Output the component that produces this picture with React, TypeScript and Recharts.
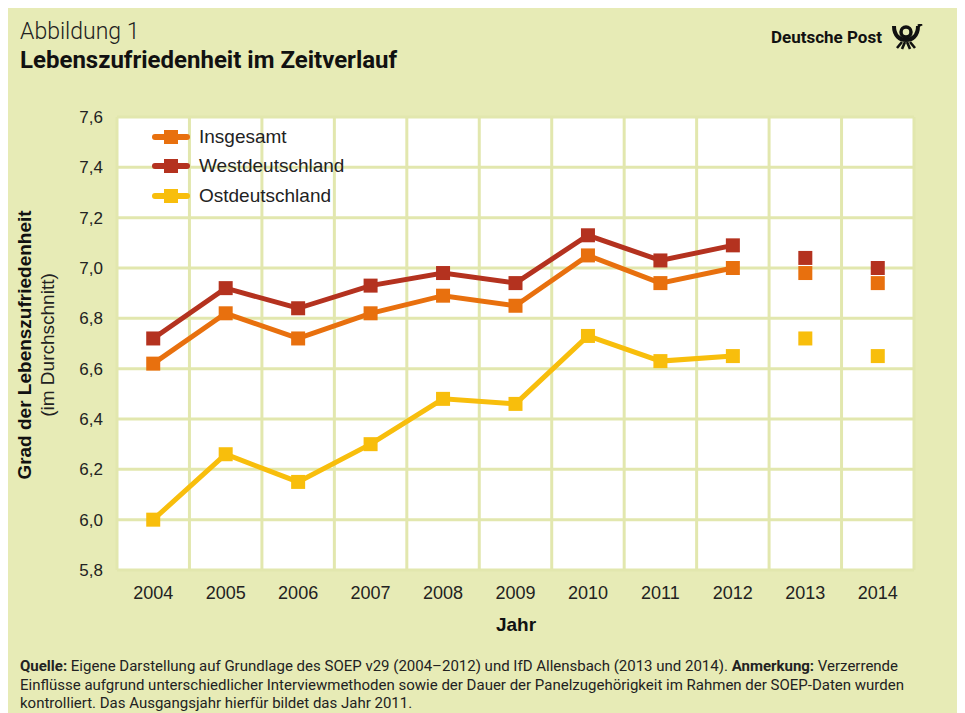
import React from "react";
import { CartesianGrid, Line, LineChart, XAxis, YAxis } from "recharts";

// Jahre und Werte (2013/2014: IfD Allensbach, nicht verbunden)
const years = [2004, 2005, 2006, 2007, 2008, 2009, 2010, 2011, 2012, 2013, 2014];
const insgesamt = [6.62, 6.82, 6.72, 6.82, 6.89, 6.85, 7.05, 6.94, 7.0, null, null];
const west = [6.72, 6.92, 6.84, 6.93, 6.98, 6.94, 7.13, 7.03, 7.09, null, null];
const ost = [6.0, 6.26, 6.15, 6.3, 6.48, 6.46, 6.73, 6.63, 6.65, null, null];
const insgesamtSurvey = [null, null, null, null, null, null, null, null, null, 6.98, 6.94];
const westSurvey = [null, null, null, null, null, null, null, null, null, 7.04, 7.0];
const ostSurvey = [null, null, null, null, null, null, null, null, null, 6.72, 6.65];
const yTicks = [5.8, 6.0, 6.2, 6.4, 6.6, 6.8, 7.0, 7.2, 7.4, 7.6];
const gridTicks = [2004.5, 2005.5, 2006.5, 2007.5, 2008.5, 2009.5, 2010.5, 2011.5, 2012.5, 2013.5];

const COLORS = {
  insgesamt: "#e8700e",
  west: "#b4321f",
  ost: "#f8be0c",
  bg: "#e7ebb6",
  grid: "#e2e7ae",
  text: "#222",
};

const legendItems = [
  { name: "Insgesamt", color: COLORS.insgesamt },
  { name: "Westdeutschland", color: COLORS.west },
  { name: "Ostdeutschland", color: COLORS.ost },
];

const data = years.map((year, i) => ({
  year,
  insgesamt: insgesamt[i],
  west: west[i],
  ost: ost[i],
  insgesamtSurvey: insgesamtSurvey[i],
  westSurvey: westSurvey[i],
  ostSurvey: ostSurvey[i],
}));

const FONT = "'Liberation Sans', Arial, sans-serif";

const squareDot = (color: string) => (props: any) => {
  const { cx, cy, index, value } = props;
  if (cx == null || cy == null || value == null) return <g key={`n-${index}`} />;
  return <rect key={`d-${index}`} x={cx - 7} y={cy - 7} width={14} height={14} fill={color} />;
};

function ChartLegend() {
  return (
    <div style={{ position: "absolute", left: 144, top: 114 }}>
      {legendItems.map((p) => (
        <div key={p.name} style={{ display: "flex", alignItems: "center", height: 29.5 }}>
          <svg width={38} height={16} style={{ marginRight: 9 }}>
            <line x1={3} y1={8} x2={35} y2={8} stroke={p.color} strokeWidth={6} strokeLinecap="round" />
            <rect x={12} y={1} width={14} height={14} fill={p.color} />
          </svg>
          <span style={{ fontSize: 19, color: COLORS.text, fontFamily: FONT }}>{p.name}</span>
        </div>
      ))}
    </div>
  );
}

function PostHorn() {
  return (
    <svg width={36} height={26} viewBox="0 0 36 26">
      <path d="M6 2 C6 12 12 16 18 16 C24 16 30 12 30 2" fill="none" stroke="#111" strokeWidth={4} />
      <circle cx={18} cy={8} r={5} fill="none" stroke="#111" strokeWidth={3.5} />
      <path d="M30 2 L34 0" stroke="#111" strokeWidth={3} />
      <path d="M9 24 L14 18 M14 25 L17 18 M22 25 L19 18 M27 24 L22 18" stroke="#111" strokeWidth={2.6} />
    </svg>
  );
}

export default function App() {
  return (
    <div
      style={{
        position: "relative",
        width: 953,
        height: 705,
        background: COLORS.bg,
        fontFamily: FONT,
        color: COLORS.text,
        overflow: "hidden",
      }}
    >
      <div style={{ position: "absolute", left: 12, top: 10, fontSize: 23, fontWeight: 300, fontFamily: "Roboto, sans-serif" }}>
        Abbildung 1
      </div>
      <div style={{ position: "absolute", left: 12, top: 38, fontSize: 24, fontWeight: 700, fontFamily: "Roboto, sans-serif", color: "#111" }}>
        Lebenszufriedenheit im Zeitverlauf
      </div>
      <div style={{ position: "absolute", left: 763, top: 16, display: "flex", alignItems: "center" }}>
        <span style={{ fontSize: 17, fontWeight: 700, fontFamily: "Roboto, sans-serif", color: "#111", marginRight: 6 }}>
          Deutsche Post
        </span>
        <PostHorn />
      </div>

      <LineChart
        width={953}
        height={705}
        data={data}
        margin={{ top: 109, right: 47, bottom: 103, left: 0 }}
        style={{ position: "absolute", left: 0, top: 0 }}
      >
        <XAxis
          xAxisId="grid"
          dataKey="year"
          type="number"
          domain={[2003.5, 2014.5]}
          ticks={gridTicks}
          hide
        />
        <CartesianGrid
          xAxisId="grid"
          fill="#fff"
          stroke={COLORS.grid}
          strokeWidth={3}
        />
        <XAxis
          dataKey="year"
          type="number"
          domain={[2003.5, 2014.5]}
          ticks={years}
          interval={0}
          tickLine={false}
          axisLine={false}
          tickSize={0}
          tickMargin={16}
          height={40}
          tick={{ fontSize: 18, fill: COLORS.text, fontFamily: FONT }}
        />
        <YAxis
          type="number"
          domain={[5.8, 7.6]}
          ticks={yTicks}
          interval={0}
          width={109}
          tickLine={false}
          axisLine={false}
          tickSize={0}
          tickMargin={14}
          tickFormatter={(v: number) => v.toFixed(1).replace(".", ",")}
          tick={{ fontSize: 17, fill: COLORS.text, fontFamily: FONT }}
        />
        <Line dataKey="insgesamt" name="Insgesamt" stroke={COLORS.insgesamt} strokeWidth={5} dot={squareDot(COLORS.insgesamt)} activeDot={false} isAnimationActive={false} />
        <Line dataKey="west" name="Westdeutschland" stroke={COLORS.west} strokeWidth={5} dot={squareDot(COLORS.west)} activeDot={false} isAnimationActive={false} />
        <Line dataKey="ost" name="Ostdeutschland" stroke={COLORS.ost} strokeWidth={5} dot={squareDot(COLORS.ost)} activeDot={false} isAnimationActive={false} />
        <Line dataKey="westSurvey" stroke="none" dot={squareDot(COLORS.west)} activeDot={false} isAnimationActive={false} />
        <Line dataKey="insgesamtSurvey" stroke="none" dot={squareDot(COLORS.insgesamt)} activeDot={false} isAnimationActive={false} />
        <Line dataKey="ostSurvey" stroke="none" dot={squareDot(COLORS.ost)} activeDot={false} isAnimationActive={false} />
      </LineChart>

      <ChartLegend />

      <div
        style={{
          position: "absolute",
          left: 17,
          top: 337,
          transform: "translate(-50%, -50%) rotate(-90deg)",
          whiteSpace: "nowrap",
          fontSize: 19,
          fontWeight: 700,
          color: "#111",
        }}
      >
        Grad der Lebenszufriedenheit
      </div>
      <div
        style={{
          position: "absolute",
          left: 40,
          top: 337,
          transform: "translate(-50%, -50%) rotate(-90deg)",
          whiteSpace: "nowrap",
          fontSize: 19,
        }}
      >
        (im Durchschnitt)
      </div>
      <div
        style={{
          position: "absolute",
          left: 508,
          top: 617,
          transform: "translate(-50%, -50%)",
          fontSize: 19,
          fontWeight: 700,
          color: "#111",
        }}
      >
        Jahr
      </div>

      <div
        style={{
          position: "absolute",
          left: 12,
          top: 649,
          width: 940,
          fontSize: 15,
          lineHeight: "18.5px",
          fontFamily: "Roboto, sans-serif",
          color: "#222",
          whiteSpace: "nowrap",
        }}
      >
        <b>Quelle:</b> Eigene Darstellung auf Grundlage des SOEP v29 (2004–2012) und IfD Allensbach (2013 und 2014).{" "}
        <b>Anmerkung:</b> Verzerrende
        <br />
        Einflüsse aufgrund unterschiedlicher Interviewmethoden sowie der Dauer der Panelzugehörigkeit im Rahmen der SOEP-Daten wurden
        <br />
        kontrolliert. Das Ausgangsjahr hierfür bildet das Jahr 2011.
      </div>
    </div>
  );
}
